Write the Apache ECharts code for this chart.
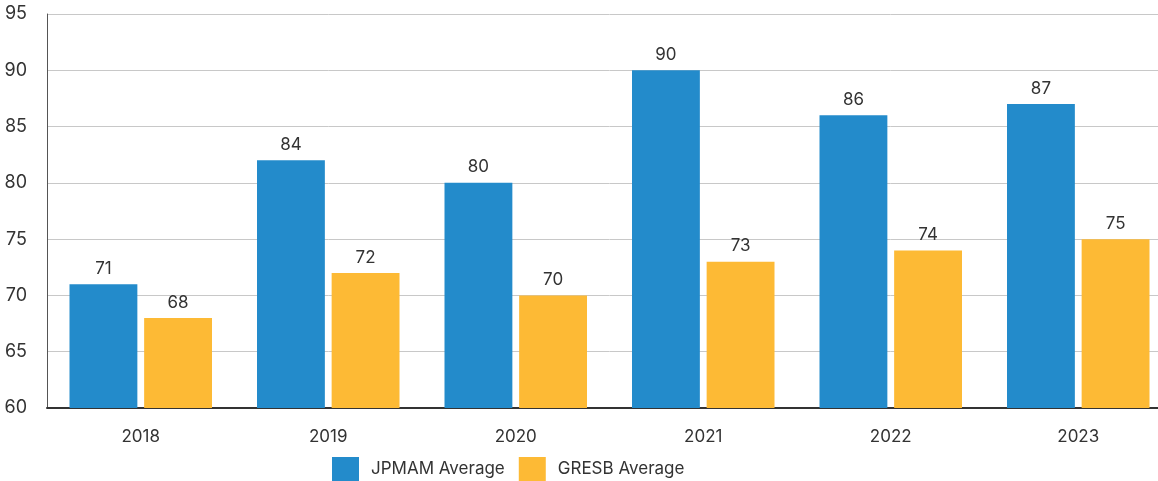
<!DOCTYPE html>
<html><head><meta charset="utf-8">
<script src="https://cdn.jsdelivr.net/npm/echarts@6/dist/echarts.min.js"></script>
<style>html,body{margin:0;padding:0;background:#fff;overflow:hidden}#c{width:1172px;height:481px}</style>
</head><body><div id="c"></div>
<script>
const categories = ['2018','2019','2020','2021','2022','2023'];
const jpmamValues = [71, 82, 80, 90, 86, 87];
const jpmamLabels = ['71','84','80','90','86','87'];
const gresbValues = [68, 72, 70, 73, 74, 75];
const gresbLabels = ['68','72','70','73','74','75'];
const yTicks = [60, 65, 70, 75, 80, 85, 90, 95];

const FONT = 'Inter, "Noto Sans", sans-serif';
const chart = echarts.init(document.getElementById('c'), null, {renderer: 'canvas'});
chart.setOption({
  animation: false,
  textStyle: {fontFamily: FONT},
  grid: {left: 47, right: 0, top: 14, bottom: 73, containLabel: false},
  legend: {
    top: 457, left: 332, padding: 0,
    itemWidth: 27, itemHeight: 24, itemGap: 14,
    icon: 'rect',
    textStyle: {fontFamily: FONT, fontSize: 17, color: '#333', padding: [0, 0, 0, 7]},
    data: ['JPMAM Average', 'GRESB Average']
  },
  xAxis: {
    type: 'category', data: categories,
    axisLine: {lineStyle: {color: '#333', width: 2}},
    axisTick: {show: false},
    axisLabel: {fontFamily: FONT, fontSize: 17, color: '#333', margin: 20}
  },
  yAxis: {
    type: 'value', min: yTicks[0], max: yTicks[yTicks.length - 1], interval: 5,
    axisLine: {show: true, lineStyle: {color: '#555', width: 1}},
    axisTick: {show: false},
    axisLabel: {fontFamily: FONT, fontSize: 18, color: '#333', margin: 20, align: 'right'},
    splitLine: {lineStyle: {color: '#c8c8c8', width: 1}}
  },
  series: [
    {
      name: 'JPMAM Average', type: 'bar', data: jpmamValues,
      barGap: '10%', barCategoryGap: '24%',
      itemStyle: {color: '#238BCB'},
      label: {show: true, position: 'top', distance: 7, fontFamily: FONT, fontSize: 17, color: '#333',
        formatter: p => jpmamLabels[p.dataIndex]}
    },
    {
      name: 'GRESB Average', type: 'bar', data: gresbValues,
      barGap: '10%', barCategoryGap: '24%',
      itemStyle: {color: '#FDBA35'},
      label: {show: true, position: 'top', distance: 7, fontFamily: FONT, fontSize: 17, color: '#333',
        formatter: p => gresbLabels[p.dataIndex]}
    }
  ]
});
</script></body></html>
